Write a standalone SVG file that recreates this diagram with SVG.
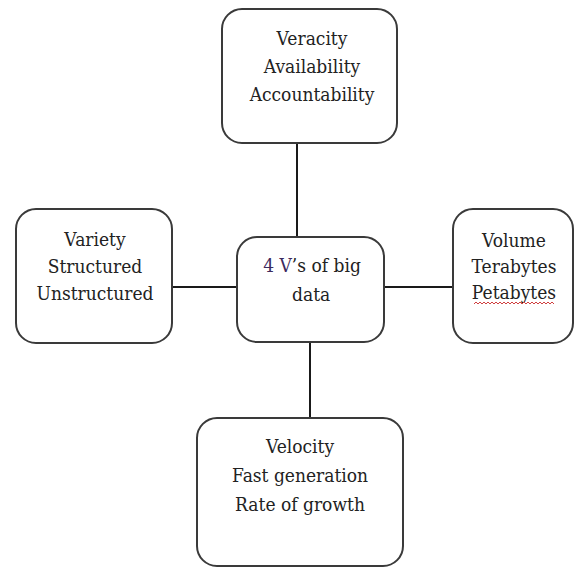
<svg xmlns="http://www.w3.org/2000/svg" width="574" height="568" viewBox="0 0 574 568">
<style>
.box{fill:#ffffff;stroke:#3a3a3a;stroke-width:2}
.lbl{font-family:'DejaVu Serif','Liberation Serif',serif;font-size:19px;fill:#222222;text-anchor:middle}
.conn{stroke:#1a1a1a;stroke-width:2;fill:none}
</style>
<rect width="574" height="568" fill="#ffffff"/>
<g id="connectors">
<line class="conn" x1="297" y1="143" x2="297" y2="237"/>
<line class="conn" x1="172" y1="287" x2="237" y2="287"/>
<line class="conn" x1="384" y1="287" x2="453" y2="287"/>
<line class="conn" x1="310" y1="342" x2="310" y2="418"/>
</g>
<g id="veracity">
<rect class="box" x="222" y="9" width="175" height="134" rx="20"/>
<text class="lbl" transform="matrix(0.9 0 0 1 31.2 0)"><tspan x="312" y="45">Veracity</tspan><tspan x="312" y="73">Availability</tspan><tspan x="312" y="101">Accountability</tspan></text>
</g>
<g id="variety">
<rect class="box" x="16" y="209" width="156" height="134" rx="20"/>
<text class="lbl" transform="matrix(0.9 0 0 1 9.5 0)"><tspan x="95" y="246">Variety</tspan><tspan x="95" y="273">Structured</tspan><tspan x="95" y="300">Unstructured</tspan></text>
</g>
<g id="center">
<rect class="box" x="237" y="237" width="147" height="105" rx="20"/>
<text class="lbl" transform="matrix(0.9 0 0 1 31.2 0)"><tspan x="312" y="272"><tspan fill="#3d2a5e">4 V</tspan>’s of big</tspan><tspan x="311" y="301">data</tspan></text>
</g>
<g id="volume">
<rect class="box" x="453" y="209" width="120" height="134" rx="20"/>
<text class="lbl" transform="matrix(0.9 0 0 1 51.4 0)"><tspan x="514" y="247">Volume</tspan><tspan x="514" y="273">Terabytes</tspan><tspan x="514" y="299">Petabytes</tspan></text>
<path d="M474 304 l2 -2 l2 2 l2 -2 l2 2 l2 -2 l2 2 l2 -2 l2 2 l2 -2 l2 2 l2 -2 l2 2 l2 -2 l2 2 l2 -2 l2 2 l2 -2 l2 2 l2 -2 l2 2 l2 -2 l2 2 l2 -2 l2 2 l2 -2 l2 2 l2 -2 l2 2 l2 -2 l2 2 l2 -2 l2 2 l2 -2 l2 2 l2 -2 l2 2 l2 -2 l2 2 l2 -2 l2 2" fill="none" stroke="#d04040" stroke-width="1"/>
</g>
<g id="velocity">
<rect class="box" x="197" y="418" width="206" height="148" rx="20"/>
<text class="lbl" transform="matrix(0.9 0 0 1 30 0)"><tspan x="300" y="453">Velocity</tspan><tspan x="300" y="482">Fast generation</tspan><tspan x="300" y="511">Rate of growth</tspan></text>
</g>
</svg>
